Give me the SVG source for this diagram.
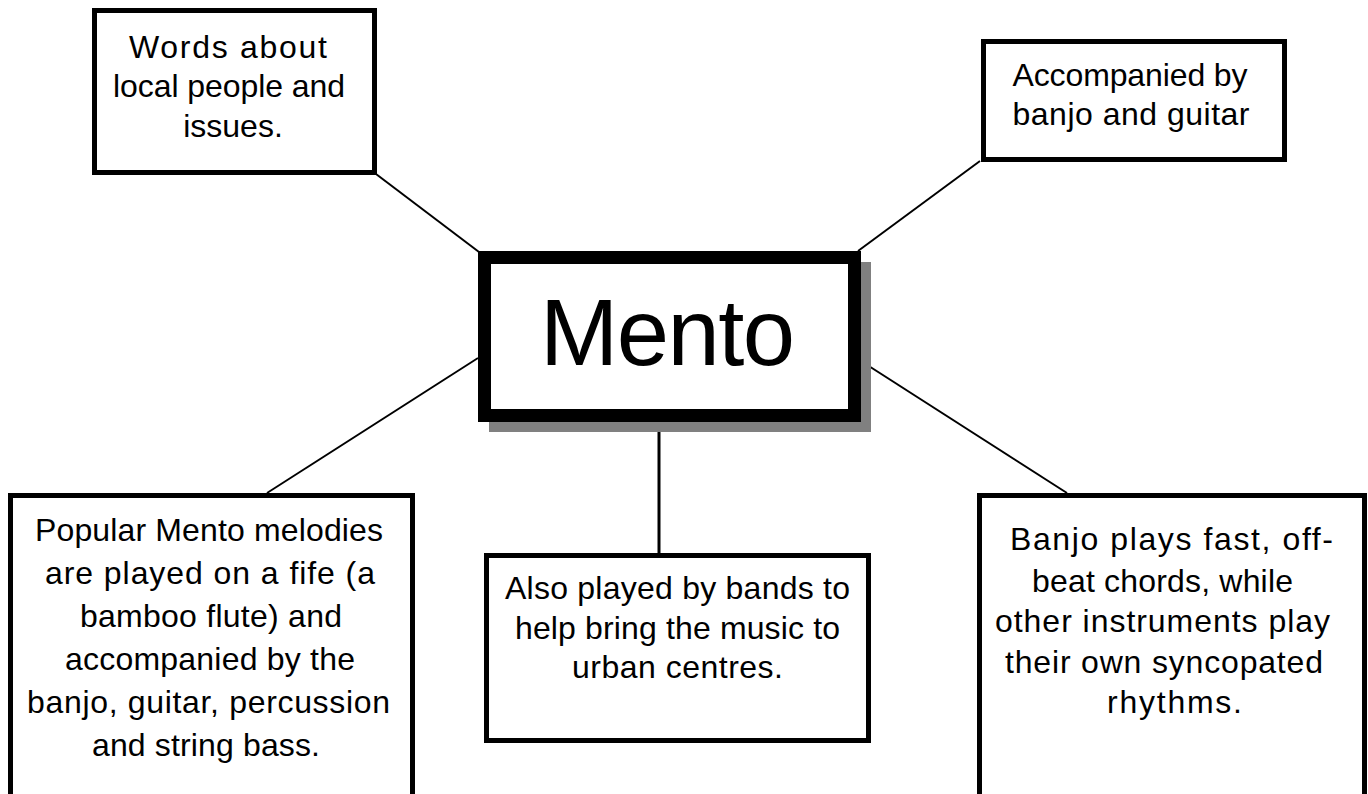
<svg xmlns="http://www.w3.org/2000/svg" width="1368" height="794" viewBox="0 0 1368 794">
  <style>
    .box { fill: #ffffff; stroke: #000000; stroke-width: 5; }
    .hub { fill: #ffffff; stroke: #000000; stroke-width: 13; }
    .shadow { fill: #808080; stroke: none; }
    .conn { stroke: #000000; stroke-width: 2; fill: none; }
    .t { font-family: "Liberation Sans", Arial, sans-serif; font-size: 32px; fill: #000000; text-anchor: middle; }
    .big { font-family: "Liberation Sans", Arial, sans-serif; font-size: 94px; fill: #000000; text-anchor: middle; }
  </style>
  <rect width="1368" height="794" fill="#ffffff"/>
  <g id="connectors">
    <line class="conn" x1="376" y1="174" x2="479" y2="252"/>
    <line class="conn" x1="980" y1="161" x2="858" y2="251"/>
    <line class="conn" x1="478" y1="358" x2="267" y2="493"/>
    <line class="conn" x1="861" y1="361" x2="1067" y2="493"/>
    <line class="conn" x1="659" y1="422" x2="659" y2="554" style="stroke-width:3"/>
  </g>
  <g id="node-words">
    <rect class="box" x="94.5" y="10.5" width="280" height="162"/>
    <text class="t" x="228" y="58" textLength="198">Words about</text>
    <text class="t" x="229" y="97" textLength="232">local people and</text>
    <text class="t" x="233" y="137">issues.</text>
  </g>
  <g id="node-accompanied">
    <rect class="box" x="983.5" y="41.5" width="301" height="118"/>
    <text class="t" x="1130" y="86" textLength="235">Accompanied by</text>
    <text class="t" x="1131" y="125" textLength="237">banjo and guitar</text>
  </g>
  <g id="node-mento">
    <rect class="shadow" x="489" y="262" width="382" height="170"/>
    <rect class="hub" x="484.5" y="257.5" width="370" height="158"/>
    <text class="big" x="667.5" y="365" textLength="255">Mento</text>
  </g>
  <g id="node-popular">
    <rect class="box" x="10.5" y="495.5" width="402" height="320"/>
    <text class="t" x="209" y="541" textLength="348">Popular Mento melodies</text>
    <text class="t" x="210" y="584" textLength="330">are played on a fife (a</text>
    <text class="t" x="211" y="627" textLength="262">bamboo flute) and</text>
    <text class="t" x="210" y="670" textLength="290">accompanied by the</text>
    <text class="t" x="208.5" y="713" textLength="363">banjo, guitar, percussion</text>
    <text class="t" x="206" y="756" textLength="228">and string bass.</text>
  </g>
  <g id="node-bands">
    <rect class="box" x="486.5" y="555.5" width="382" height="185"/>
    <text class="t" x="677.5" y="599" textLength="345">Also played by bands to</text>
    <text class="t" x="677.5" y="639" textLength="325">help bring the music to</text>
    <text class="t" x="677.5" y="678" textLength="211">urban centres.</text>
  </g>
  <g id="node-banjo">
    <rect class="box" x="979.5" y="495.5" width="385" height="320"/>
    <text class="t" x="1171.5" y="550" textLength="323">Banjo plays fast, off-</text>
    <text class="t" x="1162.5" y="592" textLength="261">beat chords, while</text>
    <text class="t" x="1162.5" y="632" textLength="335">other instruments play</text>
    <text class="t" x="1164" y="673" textLength="318">their own syncopated</text>
    <text class="t" x="1174.5" y="713" textLength="135">rhythms.</text>
  </g>
</svg>
